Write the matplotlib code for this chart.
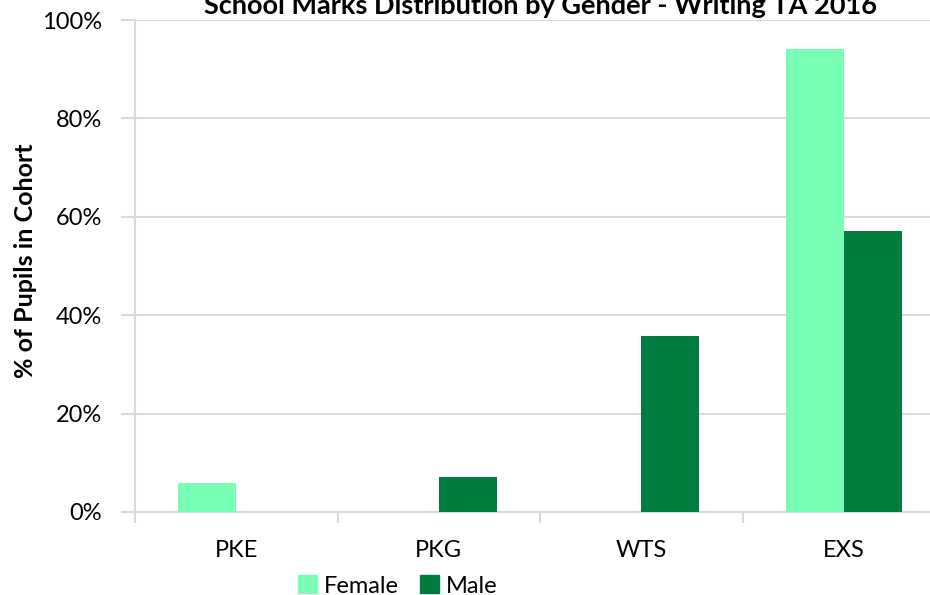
import numpy as np
import matplotlib
matplotlib.use('Agg')
import matplotlib.pyplot as plt
from matplotlib.patches import Patch
from matplotlib.ticker import PercentFormatter

categories = ['PKE', 'PKG', 'WTS', 'EXS']
female = [5.9, 0.0, 0.0, 94.1]
male = [0.0, 7.1, 35.7, 57.1]
yticks = [0, 20, 40, 60, 80, 100]

c_female = '#78FFB5'
c_male = '#007C3E'
grid_c = '#D9D9D9'

plt.rcParams['font.family'] = ['Lato', 'DejaVu Sans']

fig = plt.figure(figsize=(9.3, 5.95), dpi=100)
ax = fig.add_axes([135 / 930, 83 / 595, 810 / 930, 492 / 595])

x = np.arange(len(categories))
w = 1 / 3.5
ax.bar(x - w / 2, female, w, color=c_female, zorder=3)
ax.bar(x + w / 2, male, w, color=c_male, zorder=3)

ax.set_xlim(-0.5, len(categories) - 0.5)
ax.set_ylim(0, 100)
ax.set_yticks(yticks)
ax.yaxis.set_major_formatter(PercentFormatter(decimals=0))
ax.grid(axis='y', color=grid_c, linewidth=1.5, zorder=0)

ax.set_xticks(x)
ax.set_xticklabels(categories)
ax.set_xticks(np.arange(-0.5, len(categories)), minor=True)
ax.tick_params(axis='x', which='major', length=0, pad=20, labelsize=17)
ax.tick_params(axis='x', which='minor', length=8, width=1.5, color=grid_c)
ax.tick_params(axis='y', length=10, width=1.5, color=grid_c, pad=14, labelsize=17)

for s in ['top', 'right']:
    ax.spines[s].set_visible(False)
for s in ['left', 'bottom']:
    ax.spines[s].set_color(grid_c)
    ax.spines[s].set_linewidth(1.5)

ax.set_ylabel('% of Pupils in Cohort', fontsize=18, fontweight='bold')
ax.yaxis.set_label_coords(-0.121, 0.51)

fig.text(541 / 930, 1 - 14 / 595, 'School Marks Distribution by Gender - Writing TA 2016',
         ha='center', va='baseline', fontsize=19.5, fontweight='bold')

handles = [Patch(color=c_female, label='Female'), Patch(color=c_male, label='Male')]
fig.legend(handles=handles, loc='center', bbox_to_anchor=(398 / 930, 1 - 586 / 595),
           ncol=2, frameon=False, fontsize=17, handlelength=0.8, handleheight=0.8,
           handletextpad=0.3, columnspacing=0.9, borderpad=0)

fig.savefig('out.png', dpi=100)
